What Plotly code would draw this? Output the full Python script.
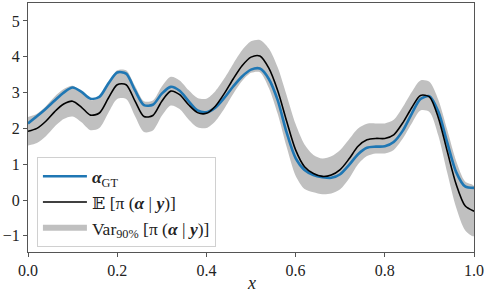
import plotly.graph_objects as go

x = [round(i * 0.02, 2) for i in range(51)]

gt = [2.14, 2.34, 2.55, 2.78, 3.00, 3.14, 3.02, 2.83, 2.88, 3.25,
      3.56, 3.53, 3.06, 2.65, 2.66, 2.97, 3.16, 3.05, 2.76, 2.50,
      2.45, 2.58, 2.85, 3.17, 3.45, 3.64, 3.67, 3.38, 2.78, 1.88,
      1.17, 0.84, 0.70, 0.64, 0.62, 0.72, 0.98, 1.28, 1.46, 1.49,
      1.50, 1.62, 1.93, 2.40, 2.82, 2.90, 2.47, 1.60, 0.78, 0.38,
      0.34]

mean = [1.92, 2.00, 2.20, 2.47, 2.68, 2.76, 2.59, 2.37, 2.43, 2.84,
        3.22, 3.22, 2.76, 2.33, 2.36, 2.76, 3.04, 2.94, 2.66, 2.44,
        2.42, 2.62, 2.97, 3.38, 3.75, 3.99, 4.02, 3.68, 3.05, 2.20,
        1.40, 0.93, 0.74, 0.66, 0.70, 0.85, 1.15, 1.50, 1.68, 1.72,
        1.72, 1.82, 2.15, 2.57, 2.92, 2.88, 2.30, 1.36, 0.44, -0.16,
        -0.31]

half = [0.40, 0.41, 0.42, 0.42, 0.42, 0.43, 0.42, 0.42, 0.42, 0.41,
        0.40, 0.40, 0.42, 0.43, 0.42, 0.41, 0.40, 0.40, 0.41, 0.41,
        0.41, 0.42, 0.42, 0.42, 0.43, 0.44, 0.45, 0.55, 0.65, 0.72,
        0.72, 0.62, 0.52, 0.50, 0.52, 0.55, 0.55, 0.50, 0.45, 0.42,
        0.42, 0.42, 0.44, 0.44, 0.42, 0.42, 0.50, 0.60, 0.65, 0.68,
        0.70]

x_ticks = [0, 0.2, 0.4, 0.6, 0.8, 1.0]
x_tick_labels = ["0.0", "0.2", "0.4", "0.6", "0.8", "1.0"]
y_ticks = [-1, 0, 1, 2, 3, 4, 5]
y_tick_labels = ["−1", "0", "1", "2", "3", "4", "5"]

upper = [m + h for m, h in zip(mean, half)]
lower = [m - h for m, h in zip(mean, half)]

serif = "Liberation Serif, DejaVu Serif, serif"

fig = go.Figure()
fig.add_trace(go.Scatter(
    x=x + x[::-1], y=upper + lower[::-1],
    fill="toself", fillcolor="#c0c0c0", mode="none",
    line=dict(shape="spline", smoothing=0.8),
    name="Var<sub>90%</sub> [π (<b><i>α</i></b> | <b><i>y</i></b>)]",
    legendrank=3, hoverinfo="skip"))
fig.add_trace(go.Scatter(
    x=x, y=gt, mode="lines",
    line=dict(color="#1f77b4", width=2.6, shape="spline", smoothing=0.8),
    name="<b><i>α</i></b><sub>GT</sub>", legendrank=1))
fig.add_trace(go.Scatter(
    x=x, y=mean, mode="lines",
    line=dict(color="black", width=1.6, shape="spline", smoothing=0.8),
    name="𝔼 [π (<b><i>α</i></b> | <b><i>y</i></b>)]", legendrank=2))

axis_common = dict(
    showgrid=False, zeroline=False, showline=True, linecolor="#555",
    linewidth=1, mirror=True, ticks="outside", ticklen=4, tickcolor="#555",
    automargin=False,
    tickfont=dict(family=serif, size=16, color="#222"))

fig.update_layout(
    width=489, height=294,
    margin=dict(l=28, r=15, t=3, b=42),
    paper_bgcolor="white", plot_bgcolor="white",
    showlegend=True,
    legend=dict(x=0.02, y=0.38, xanchor="left", yanchor="top",
                bgcolor="rgba(255,255,255,0.85)", bordercolor="#d0d0d0",
                borderwidth=1, font=dict(family=serif, size=17.5, color="#222"),
                tracegroupgap=0, itemwidth=44),
    xaxis=dict(range=[0, 1], tickvals=x_ticks, ticktext=x_tick_labels,
               **axis_common),
    yaxis=dict(range=[-1.45, 5.5], tickvals=y_ticks, ticktext=y_tick_labels,
               **axis_common),
    annotations=[dict(text="<i>x</i>", x=0.5, y=-0.125, xref="paper",
                      yref="paper", xanchor="center", yanchor="middle",
                      showarrow=False,
                      font=dict(family=serif, size=18, color="#222"))],
)

fig.write_html("out.html",
               config={"displayModeBar": False},
               post_script="document.body.style.margin='0';"
                           "document.body.style.padding='0';"
                           "document.body.style.overflow='hidden';")
